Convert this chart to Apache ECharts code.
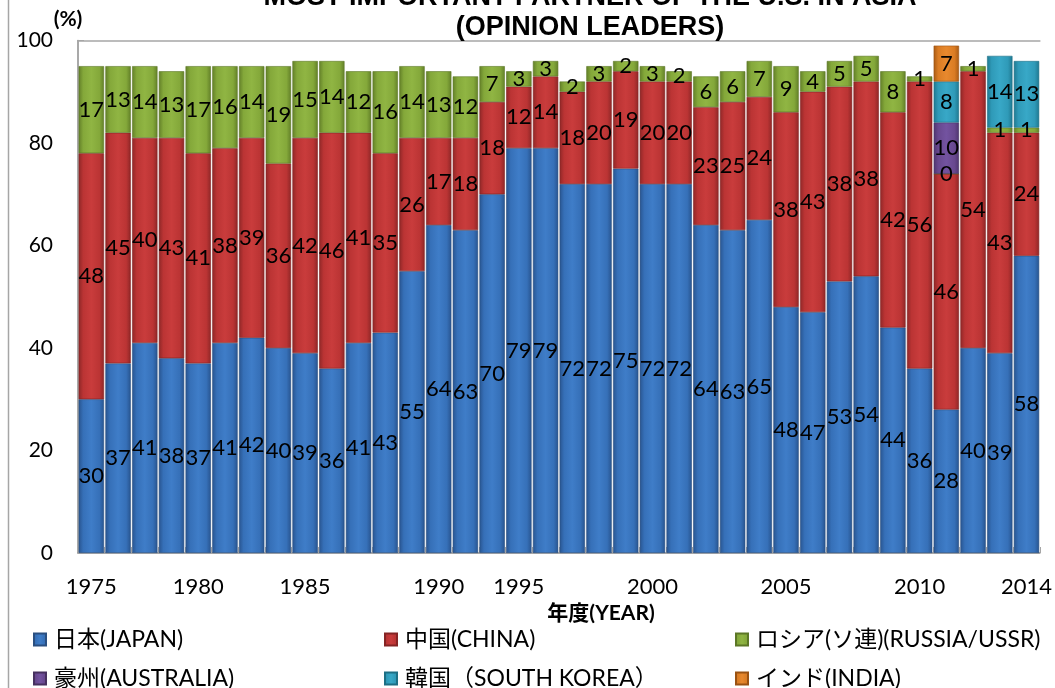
<!DOCTYPE html>
<html><head><meta charset="utf-8">
<script src="https://cdn.jsdelivr.net/npm/echarts@6/dist/echarts.min.js"></script>
<style>html,body{margin:0;padding:0;background:#fff}#c{width:1055px;height:688px}</style>
</head><body><div id="c"></div>
<script>
const categories = ['1975','1976','1977','1978','1980','1981','1982','1983','1985','1986','1987','1988','1989','1990','1991','1993','1995','1996','1997','1998','1999','2000','2001','2002','2003','2004','2005','2006','2007','2008','2009','2010','2011','2012','2013','2014'];
const tickLabels = ['1975','1980','1985','1990','1995','2000','2005','2010','2014'];
const yTicks = [0, 20, 40, 60, 80, 100];
const japan = [30,37,41,38,37,41,42,40,39,36,41,43,55,64,63,70,79,79,72,72,75,72,72,64,63,65,48,47,53,54,44,36,28,40,39,58];
const china = [48,45,40,43,41,38,39,36,42,46,41,35,26,17,18,18,12,14,18,20,19,20,20,23,25,24,38,43,38,38,42,56,46,54,43,24];
const russia = [17,13,14,13,17,16,14,19,15,14,12,16,14,13,12,7,3,3,2,3,2,3,2,6,6,7,9,4,5,5,8,1,0,1,1,1];
const australia = [null,null,null,null,null,null,null,null,null,null,null,null,null,null,null,null,null,null,null,null,null,null,null,null,null,null,null,null,null,null,null,null,10,null,null,null];
const korea = [null,null,null,null,null,null,null,null,null,null,null,null,null,null,null,null,null,null,null,null,null,null,null,null,null,null,null,null,null,null,null,null,8,null,14,13];
const india = [null,null,null,null,null,null,null,null,null,null,null,null,null,null,null,null,null,null,null,null,null,null,null,null,null,null,null,null,null,null,null,null,7,null,null,null];
const seriesNames = ['日本(JAPAN)','中国(CHINA)','ロシア(ソ連)(RUSSIA/USSR)','豪州(AUSTRALIA)','韓国（SOUTH KOREA）','インド(INDIA)'];

const chart = echarts.init(document.getElementById('c'), null, {renderer:'canvas'});
const FONT = "Lato, 'Noto Sans CJK JP', sans-serif";
function grad(edge, mid, hi) {
  return new echarts.graphic.LinearGradient(0,0,1,0,[
    {offset:0,color:edge},{offset:0.18,color:mid},{offset:0.5,color:hi},{offset:0.82,color:mid},{offset:1,color:edge}]);
}
const colors = [
  grad('#28548F','#3670B8','#3F7DC8'),
  grad('#8E2727','#BB3434','#C93C3C'),
  grad('#627F28','#84A83A','#90B543'),
  grad('#4E356F','#68488F','#7353A0'),
  grad('#1F7890','#2F9AB8','#38A8C7'),
  grad('#A85A14','#DA7C24','#E8892E')
];
const borders = ['#2A4F80','#842424','#5C7726','#46305F','#1D6F84','#9A5212'];
const dataArr = [japan, china, russia, australia, korea, india];

const series = dataArr.map((d, i) => ({
  name: seriesNames[i],
  type: 'bar',
  stack: 'total',
  data: d,
  barCategoryGap: '5%',
  itemStyle: {color: colors[i], borderColor: borders[i], borderWidth: 0.6},
  label: {show: true, position: 'inside', color: '#000', fontSize: 22, fontFamily: FONT,
          formatter: p => (p.value === null || p.value === undefined) ? '' : String(p.value)},
  emphasis: {disabled: true}
}));

const legendBase = {orient:'vertical', top: 628, height: 100, itemWidth: 12, itemHeight: 12, itemGap: 16,
  icon: 'rect', padding: 0, textStyle: {fontSize: 23, fontFamily: FONT, color: '#000', padding:[0,0,0,3]}, selectedMode: false};

chart.setOption({
  animation: false,
  title: {
    text: 'MOST IMPORTANT PARTNER OF THE U.S. IN ASIA\n(OPINION LEADERS)',
    left: 590, top: -17, textAlign: 'center', padding: 0,
    textStyle: {fontSize: 27, fontWeight: 'bold', fontFamily: "'Liberation Sans', Arial, sans-serif", color: '#000', lineHeight: 30}
  },
  grid: {left: 78, right: 14, top: 40.5, bottom: 135},
  legend: [
    Object.assign({}, legendBase, {left: 33, data: [seriesNames[0], seriesNames[3]]}),
    Object.assign({}, legendBase, {left: 384, data: [seriesNames[1], seriesNames[4]]}),
    Object.assign({}, legendBase, {left: 735, data: [seriesNames[2], seriesNames[5]]})
  ],
  xAxis: [{
    type: 'category', data: categories, position: 'bottom',
    name: '年度(YEAR)', nameLocation: 'middle', nameGap: 49,
    nameTextStyle: {fontSize: 21, fontWeight: 'bold', fontFamily: FONT, color: '#000', padding: [0,0,0,84]},
    axisLine: {lineStyle: {color: '#8C8C8C', width: 1.5}},
    axisTick: {show: true, inside: true, length: 6, interval: 0, lineStyle: {color: '#A6A6A6'}},
    axisLabel: {interval: (idx, val) => tickLabels.indexOf(val) >= 0, margin: 23, fontSize: 22, fontFamily: FONT, color: '#000'}
  }, {
    type: 'category', data: categories, position: 'top',
    axisLine: {show: true, lineStyle: {color: '#A6A6A6', width: 1.5}},
    axisTick: {show: false}, axisLabel: {show: false}
  }],
  yAxis: {
    type: 'value', min: yTicks[0], max: yTicks[yTicks.length-1], interval: 20,
    name: '(%)', nameLocation: 'end', nameGap: 10,
    nameTextStyle: {fontSize: 21, fontWeight: 'bold', fontFamily: FONT, color: '#000', padding: [0,20,0,0]},
    axisLine: {show: true, lineStyle: {color: '#8C8C8C', width: 1.5}},
    axisTick: {show: true, inside: true, length: 6, lineStyle: {color: '#A6A6A6'}},
    splitLine: {show: false},
    axisLabel: {margin: 25, fontSize: 21, fontFamily: FONT, color: '#000'}
  },
  graphic: [{type: 'line', shape: {x1: 8.5, y1: 0, x2: 8.5, y2: 688}, style: {stroke: '#A6A6A6', lineWidth: 1.5}}],
  series: series
});
</script></body></html>
